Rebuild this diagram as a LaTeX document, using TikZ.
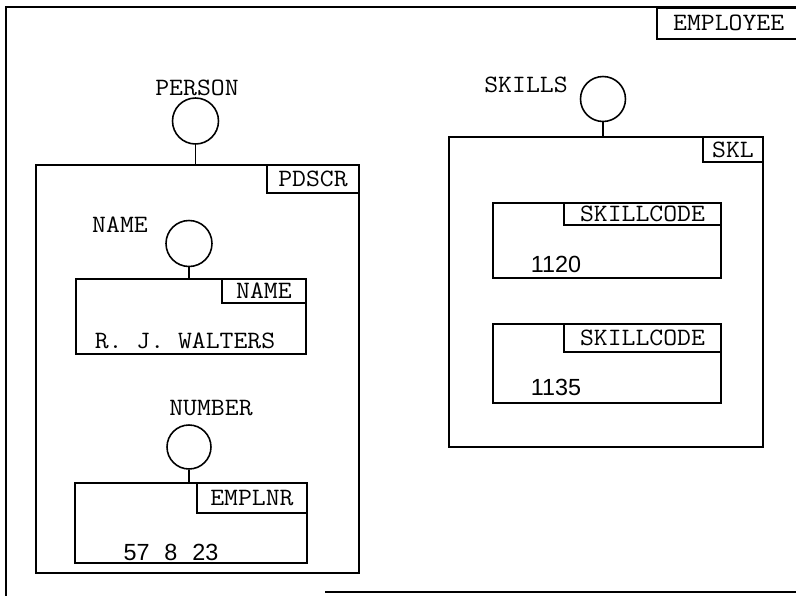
\documentclass[tikz,border=0pt]{standalone}
\usepackage{fontspec}
\usetikzlibrary{positioning}
\newfontfamily\typefont[FakeStretch=1.08]{Latin Modern Mono}
\newfontfamily\numfont[WordSpace=2.3]{Liberation Sans}

\begin{document}
\begin{tikzpicture}[x=0.02cm, y=-0.02cm, line width=0.9pt,
  recname/.style={circle, draw, minimum size=0.92cm, inner sep=0pt},
  label/.style={font=\typefont\fontsize{14.2}{16}\selectfont, inner sep=0pt},
  value/.style={font=\numfont\fontsize{13.3}{15}\selectfont, inner sep=0pt},
  group/.style={rectangle, draw, inner sep=0pt},
  tab/.style={rectangle, draw, inner sep=0pt, font=\typefont\fontsize{14.2}{16}\selectfont},
  link/.style={line width=0.9pt}]

\useasboundingbox (0,0) rectangle (796,596);

% outer frame
\draw (6,600) -- (6,7) -- (800,7);
\draw (325,592) -- (800,592);
\node[tab, anchor=north east, minimum width=2.86cm, minimum height=0.62cm] (employee) at (801,7) {EMPLOYEE\hspace{0.2cm}};

% person group
\node[label] (personlbl) at (197,88) {PERSON};
\node[recname] (person) at (195.5,121) {};
\node[group, minimum width=6.46cm, minimum height=8.16cm] (pdscr) at (197.5,369) {};
\node[tab, anchor=north east, minimum width=1.84cm, minimum height=0.56cm] (pdscrtab) at (pdscr.north east) {PDSCR};

\node[label] (namelbl) at (120,225) {NAME};
\node[recname] (name) at (189,243.5) {};
\node[group, minimum width=4.6cm, minimum height=1.5cm] (namebox) at (191,316.5) {};
\node[tab, anchor=north east, minimum width=1.68cm, minimum height=0.48cm] (nametab) at (namebox.north east) {NAME};
\node[label] (nameval) at (185,341) {R. J. WALTERS};

\node[label] (numberlbl) at (211,408) {NUMBER};
\node[recname, minimum size=0.88cm] (number) at (189,447) {};
\node[group, minimum width=4.64cm, minimum height=1.6cm] (emplnr) at (191,523) {};
\node[tab, anchor=north east, minimum width=2.2cm, minimum height=0.6cm] (emplnrtab) at (emplnr.north east) {EMPLNR};
\node[value] (numberval) at (171,552) {57 8 23};

% skills group
\node[label] (skillslbl) at (526,85) {SKILLS};
\node[recname, minimum size=0.9cm] (skills) at (603,99) {};
\node[group, minimum width=6.28cm, minimum height=6.2cm] (skl) at (606,292) {};
\node[tab, anchor=north east, minimum width=1.2cm, minimum height=0.5cm] (skltab) at (skl.north east) {SKL};

\node[group, minimum width=4.56cm, minimum height=1.5cm] (codeone) at (607,240.5) {};
\node[tab, anchor=north east, minimum width=3.14cm, minimum height=0.44cm] (codeonetab) at (codeone.north east) {SKILLCODE};
\node[value] (codeoneval) at (556,264) {1120};

\node[group, minimum width=4.56cm, minimum height=1.58cm] (codetwo) at (607,363.5) {};
\node[tab, anchor=north east, minimum width=3.14cm, minimum height=0.56cm] (codetwotab) at (codetwo.north east) {SKILLCODE};
\node[value] (codetwoval) at (556,387) {1135};

\draw[link] (person.south) -- (person.south |- pdscr.north);
\draw[link] (name.south) -- (name.south |- namebox.north);
\draw[link] (number.south) -- (number.south |- emplnr.north);
\draw[link] (skills.south) -- (skills.south |- skl.north);

\end{tikzpicture}
\end{document}
